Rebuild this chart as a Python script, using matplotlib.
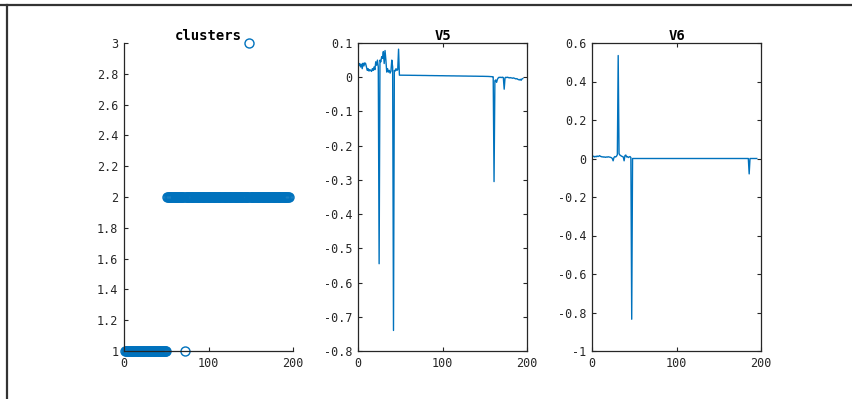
# Cluster labels with the V5 and V6 components, side by side

import numpy as np
import matplotlib.pyplot as plt
from matplotlib.lines import Line2D
from matplotlib.ticker import FormatStrFormatter

clusters = [
    1, 1, 1, 1, 1, 1, 1, 1, 1, 1,
    1, 1, 1, 1, 1, 1, 1, 1, 1, 1,
    1, 1, 1, 1, 1, 1, 1, 1, 1, 1,
    1, 1, 1, 1, 1, 1, 1, 1, 1, 1,
    1, 1, 1, 1, 1, 1, 1, 1, 1, 1,
    2, 2, 2, 2, 2, 2, 2, 2, 2, 2,
    2, 2, 2, 2, 2, 2, 2, 2, 2, 2,
    2, 1, 2, 2, 2, 2, 2, 2, 2, 2,
    2, 2, 2, 2, 2, 2, 2, 2, 2, 2,
    2, 2, 2, 2, 2, 2, 2, 2, 2, 2,
    2, 2, 2, 2, 2, 2, 2, 2, 2, 2,
    2, 2, 2, 2, 2, 2, 2, 2, 2, 2,
    2, 2, 2, 2, 2, 2, 2, 2, 2, 2,
    2, 2, 2, 2, 2, 2, 2, 2, 2, 2,
    2, 2, 2, 2, 2, 2, 2, 3, 2, 2,
    2, 2, 2, 2, 2, 2, 2, 2, 2, 2,
    2, 2, 2, 2, 2, 2, 2, 2, 2, 2,
    2, 2, 2, 2, 2, 2, 2, 2, 2, 2,
    2, 2, 2, 2, 2, 2, 2, 2, 2, 2,
    2, 2, 2, 2, 2,
]

V5 = [
    0.035, 0.040, 0.030, 0.038, 0.025, 0.041, 0.033, 0.042, 0.040, 0.030,
    0.020, 0.025, 0.018, 0.022, 0.020, 0.017, 0.025, 0.020, 0.030, 0.022,
    0.045, 0.035, 0.050, 0.030, -0.545, 0.050, 0.045, 0.060, 0.055, 0.075,
    0.040, 0.078, 0.050, 0.015, 0.025, 0.015, 0.020, 0.012, 0.018, 0.050,
    0.030, -0.740, 0.020, 0.018, 0.025, 0.020, 0.022, 0.082, 0.006, 0.006,
    0.0060, 0.0061, 0.0059, 0.0060, 0.0058, 0.0059, 0.0060, 0.0058, 0.0057, 0.0058,
    0.0057, 0.0056, 0.0057, 0.0056, 0.0055, 0.0056, 0.0055, 0.0054, 0.0055, 0.0054,
    0.0053, 0.0054, 0.0053, 0.0052, 0.0053, 0.0052, 0.0051, 0.0052, 0.0051, 0.0050,
    0.0050, 0.0049, 0.0050, 0.0049, 0.0048, 0.0049, 0.0048, 0.0047, 0.0048, 0.0047,
    0.0046, 0.0047, 0.0046, 0.0045, 0.0046, 0.0045, 0.0044, 0.0045, 0.0044, 0.0043,
    0.0043, 0.0042, 0.0043, 0.0042, 0.0041, 0.0042, 0.0041, 0.0040, 0.0041, 0.0040,
    0.0039, 0.0040, 0.0039, 0.0038, 0.0039, 0.0038, 0.0037, 0.0038, 0.0037, 0.0036,
    0.0036, 0.0035, 0.0036, 0.0035, 0.0034, 0.0035, 0.0034, 0.0033, 0.0034, 0.0033,
    0.0032, 0.0033, 0.0032, 0.0031, 0.0032, 0.0031, 0.0030, 0.0031, 0.0030, 0.0029,
    0.0029, 0.0028, 0.0029, 0.0028, 0.0027, 0.0028, 0.0027, 0.0026, 0.0027, 0.0026,
    0.0025, 0.0024, 0.0025, 0.0023, 0.0022, 0.0023, 0.0021, 0.0020, 0.0015, 0.0010,
    -0.305, -0.010, -0.008, -0.015, -0.006, -0.002, 0.000, -0.001, 0.000, -0.001,
    0.000, -0.001, -0.035, -0.002, 0.000, -0.001, 0.000, -0.001, -0.002, -0.001,
    -0.002, -0.002, -0.003, -0.002, -0.003, -0.004, -0.005, -0.004, -0.006, -0.007,
    -0.008, -0.006, -0.009, -0.005, -0.004,
]

V6 = [
    0.010, 0.012, 0.008, 0.011, 0.009, 0.013, 0.010, 0.012, 0.015, 0.011,
    0.010, 0.008, 0.009, 0.007, 0.008, 0.006, 0.008, 0.007, 0.009, 0.008,
    0.007, 0.006, 0.004, 0.000, -0.012, 0.005, 0.010, 0.008, 0.012, 0.020,
    0.535, 0.025, 0.018, 0.015, 0.012, 0.010, 0.008, -0.012, 0.015, 0.018,
    0.008, 0.010, 0.005, 0.008, 0.010, 0.005, -0.835, 0.000, 0.000, 0.000,
    0.000, 0.000, 0.000, 0.000, 0.000, 0.000, 0.000, 0.000, 0.000, 0.000,
    0.000, 0.000, 0.000, 0.000, 0.000, 0.000, 0.000, 0.000, 0.000, 0.000,
    0.000, 0.000, 0.000, 0.000, 0.000, 0.000, 0.000, 0.000, 0.000, 0.000,
    0.000, 0.000, 0.000, 0.000, 0.000, 0.000, 0.000, 0.000, 0.000, 0.000,
    0.000, 0.000, 0.000, 0.000, 0.000, 0.000, 0.000, 0.000, 0.000, 0.000,
    0.000, 0.000, 0.000, 0.000, 0.000, 0.000, 0.000, 0.000, 0.000, 0.000,
    0.000, 0.000, 0.000, 0.000, 0.000, 0.000, 0.000, 0.000, 0.000, 0.000,
    0.000, 0.000, 0.000, 0.000, 0.000, 0.000, 0.000, 0.000, 0.000, 0.000,
    0.000, 0.000, 0.000, 0.000, 0.000, 0.000, 0.000, 0.000, 0.000, 0.000,
    0.000, 0.000, 0.000, 0.000, 0.000, 0.000, 0.000, 0.000, 0.000, 0.000,
    0.000, 0.000, 0.000, 0.000, 0.000, 0.000, 0.000, 0.000, 0.000, 0.000,
    0.000, 0.000, 0.000, 0.000, 0.000, 0.000, 0.000, 0.000, 0.000, 0.000,
    0.000, 0.000, 0.000, 0.000, 0.000, 0.000, 0.000, 0.000, 0.000, 0.000,
    0.000, 0.000, 0.000, 0.000, 0.000, -0.080, 0.000, 0.000, 0.000, 0.000,
    0.000, 0.000, 0.000, 0.000, 0.000,
]

ticks_clusters = [1, 1.2, 1.4, 1.6, 1.8, 2, 2.2, 2.4, 2.6, 2.8, 3]
ticks_v5 = [-0.8, -0.7, -0.6, -0.5, -0.4, -0.3, -0.2, -0.1, 0, 0.1]
ticks_v6 = [-1, -0.8, -0.6, -0.4, -0.2, 0, 0.2, 0.4, 0.6]

idx = np.arange(1, len(clusters) + 1)

blue = '#0072BD'
axis_col = '#262626'
tick_font = 'DejaVu Sans Mono'

fig = plt.figure(figsize=(8.52, 3.99), dpi=100)

# outer frame (top and left edges only)
fig.add_artist(Line2D([0, 1], [1 - 5 / 399, 1 - 5 / 399], color='#333333', lw=1.6))
fig.add_artist(Line2D([7 / 852, 7 / 852], [0, 1 - 5 / 399], color='#333333', lw=1.6))

bottom, height = 48 / 399, 308 / 399
width = 169 / 852
ax1 = fig.add_axes([124 / 852, bottom, width, height])
ax2 = fig.add_axes([358 / 852, bottom, width, height])
ax3 = fig.add_axes([592 / 852, bottom, width, height])


def style(ax, yticks, title, boxed=True):
    ax.set_xlim(0, 200)
    ax.set_xticks([0, 100, 200])
    ax.set_ylim(yticks[0], yticks[-1])
    ax.set_yticks(yticks)
    ax.yaxis.set_major_formatter(FormatStrFormatter('%g'))
    for s in ax.spines.values():
        s.set_color(axis_col)
        s.set_linewidth(0.9)
    if not boxed:
        ax.spines['top'].set_visible(False)
        ax.spines['right'].set_visible(False)
    ax.tick_params(direction='in', length=3, width=0.8, color=axis_col,
                   labelcolor=axis_col, labelsize=8.5,
                   top=boxed, right=boxed)
    ax.tick_params(axis='x', pad=4.5)
    ax.tick_params(axis='y', pad=4)
    for lab in ax.get_xticklabels() + ax.get_yticklabels():
        lab.set_family(tick_font)
    ax.set_title(title, fontsize=10, fontweight='bold', family=tick_font, pad=2)


ax1.plot(idx, clusters, 'o', color=blue, mfc='none', ms=6.5, mew=1.0, clip_on=False)
style(ax1, ticks_clusters, 'clusters', boxed=False)

ax2.plot(idx, V5, color=blue, lw=1.0)
style(ax2, ticks_v5, 'V5')

ax3.plot(idx, V6, color=blue, lw=1.0)
style(ax3, ticks_v6, 'V6')

fig.savefig('out.png', dpi=100)
